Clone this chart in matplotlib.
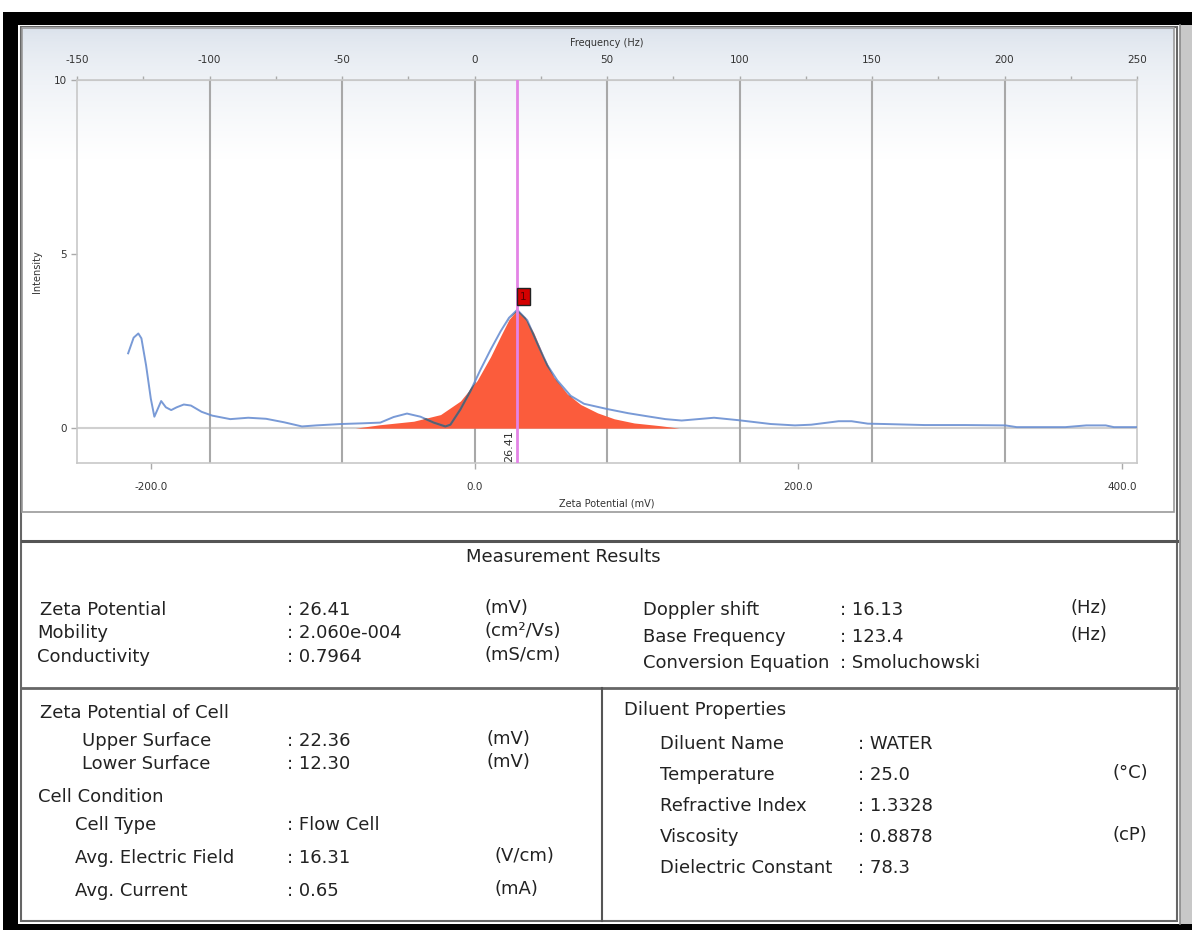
import numpy as np
import matplotlib
matplotlib.use("Agg")
import matplotlib.pyplot as plt
from matplotlib.patches import Rectangle

plt.rcParams["axes.unicode_minus"] = False

# zeta potential (mV) per doppler frequency (Hz)
zeta_peak = 26.41
doppler_shift = 16.13
k = zeta_peak / doppler_shift

freq_ticks = [-150, -100, -50, 0, 50, 100, 150, 200, 250]
zeta_ticks = [-200.0, 0.0, 200.0, 400.0]
intensity_ticks = [0, 5, 10]

# measured spectrum (blue line)
spec_mv = [-214, -210.6, -207.7, -205.8, -202.9, -200, -197.8, -196.2, -193.6, -190.7,
           -187.4, -184, -179.6, -175.2, -168.6, -162, -150.9, -139.8, -128.8, -117.7,
           -106.6, -97.8, -82.3, -69, -58.2, -50, -41.7, -33.4, -25.2, -18,
           -14.9, -8.7, -2.5, 3.7, 9.9, 16.1, 21.3, 26.4, 32.6, 38.8,
           45, 51.2, 59.4, 67.7, 82, 95, 107, 118, 128, 148,
           163, 183, 198, 208, 225, 233, 243, 253, 278, 303,
           328, 335, 365, 378, 390, 395, 411]
spec_int = [2.15, 2.6, 2.72, 2.58, 1.8, 0.85, 0.33, 0.5, 0.78, 0.6,
            0.52, 0.6, 0.68, 0.65, 0.47, 0.36, 0.26, 0.3, 0.27, 0.17,
            0.05, 0.08, 0.12, 0.14, 0.16, 0.32, 0.42, 0.33, 0.16, 0.05,
            0.1, 0.54, 1.07, 1.68, 2.25, 2.78, 3.17, 3.4, 3.1, 2.44,
            1.81, 1.37, 0.93, 0.7, 0.55, 0.43, 0.34, 0.26, 0.22, 0.3,
            0.23, 0.12, 0.08, 0.1, 0.2, 0.2, 0.13, 0.12, 0.09, 0.09,
            0.08, 0.03, 0.03, 0.08, 0.08, 0.03, 0.03]

# fitted peak (red area)
peak_mv = [-73.7, -58.2, -37.6, -21, -8.7, 1.65, 9.9, 16.1, 21.3, 26.4,
           31.6, 36.7, 42.9, 49.1, 57.4, 65.6, 76, 86.3, 98.6, 115, 126.5]
peak_int = [0.0, 0.1, 0.2, 0.39, 0.78, 1.37, 2.05, 2.64, 3.12, 3.4,
            3.17, 2.73, 2.05, 1.46, 0.98, 0.68, 0.44, 0.27, 0.15, 0.07, 0.0]

results_left = [("Zeta Potential", ": 26.41", "(mV)"),
                ("Mobility", ": 2.060e-004", "(cm²/Vs)"),
                ("Conductivity", ": 0.7964", "(mS/cm)")]
results_right = [("Doppler shift", ": 16.13", "(Hz)"),
                 ("Base Frequency", ": 123.4", "(Hz)"),
                 ("Conversion Equation", ": Smoluchowski", "")]
cell_rows = [("Upper Surface", ": 22.36", "(mV)"),
             ("Lower Surface", ": 12.30", "(mV)")]
cond_rows = [("Cell Type", ": Flow Cell", ""),
             ("Avg. Electric Field", ": 16.31", "(V/cm)"),
             ("Avg. Current", ": 0.65", "(mA)")]
diluent_rows = [("Diluent Name", ": WATER", ""),
                ("Temperature", ": 25.0", "(°C)"),
                ("Refractive Index", ": 1.3328", ""),
                ("Viscosity", ": 0.8878", "(cP)"),
                ("Dielectric Constant", ": 78.3", "")]

W, H = 1192, 930
fig = plt.figure(figsize=(W / 100, H / 100), dpi=100)
fig.patch.set_facecolor("white")

# background layer in pixel coordinates
bg = fig.add_axes([0, 0, 1, 1], zorder=0)
bg.set_xlim(0, W)
bg.set_ylim(H, 0)
bg.axis("off")

# window frame
bg.add_patch(Rectangle((3, 12), W - 3, 13, facecolor="black", lw=0))
bg.add_patch(Rectangle((3, 12), 15, H - 12, facecolor="black", lw=0))
bg.add_patch(Rectangle((3, 924), W - 3, 6, facecolor="black", lw=0))
bg.add_patch(Rectangle((1180, 25), 12, 899, facecolor="#c8c8c8", lw=0))
bg.plot([1180, 1180], [25, 924], color="#8a8a8a", lw=1.2)
bg.add_patch(Rectangle((21, 27), 1156, 894, facecolor="none", edgecolor="#666666", lw=1.5))

top = np.array([0.85, 0.88, 0.92])
t = np.linspace(0, 1, 200) ** 0.6
t = np.clip(t * 2.2, 0, 1)
grad = top[None, :] * (1 - t[:, None]) + np.ones(3)[None, :] * t[:, None]
bg.imshow(grad[:, None, :], extent=(22, 1174, 512, 28), aspect="auto", zorder=1)
bg.add_patch(Rectangle((22, 28), 1152, 484, facecolor="none", edgecolor="#9a9a9a", lw=1.2, zorder=2))

bg.plot([22, 1177], [541, 541], color="#555555", lw=2.2)
bg.plot([22, 1177], [688, 688], color="#666666", lw=2)
bg.plot([602, 602], [688, 921], color="#555555", lw=1.5)

tk = dict(fontsize=13, color="#222222", va="center", family="DejaVu Sans")
bg.text(563, 557, "Measurement Results", ha="center", **tk)

for (lab, val, unit), y, x0 in zip(results_left, [610, 633, 657], [40, 37, 37]):
    bg.text(x0, y, lab, **tk)
    bg.text(287, y, val, **tk)
    bg.text(484, y - 2, unit, **tk)
for (lab, val, unit), y in zip(results_right, [610, 637, 663]):
    bg.text(643, y, lab, **tk)
    bg.text(840, y, val, **tk)
    bg.text(1070, y - 2, unit, **tk)

bg.text(40, 713, "Zeta Potential of Cell", **tk)
for (lab, val, unit), y in zip(cell_rows, [741, 764]):
    bg.text(82, y, lab, **tk)
    bg.text(287, y, val, **tk)
    bg.text(487, y - 2, unit, **tk)
bg.text(38, 797, "Cell Condition", **tk)
for (lab, val, unit), y in zip(cond_rows, [825, 858, 891]):
    bg.text(75, y, lab, **tk)
    bg.text(287, y, val, **tk)
    bg.text(494, y - 2, unit, **tk)

bg.text(624, 710, "Diluent Properties", **tk)
for (lab, val, unit), y in zip(diluent_rows, [744, 775, 806, 837, 868]):
    bg.text(660, y, lab, **tk)
    bg.text(858, y, val, **tk)
    bg.text(1112, y - 2, unit, **tk)

# chart
ax = fig.add_axes([77 / W, (H - 463) / H, 1060 / W, 383 / H], zorder=2)
ax.set_facecolor("none")
ax.set_xlim(freq_ticks[0] * k, freq_ticks[-1] * k)
ax.set_ylim(-1, 10)

ax.axhline(0, color="#d0d0d0", lw=1.5, zorder=1)
for hz in freq_ticks[1:-1]:
    ax.axvline(hz * k, color="#a8a8a8", lw=1.5, zorder=1)
red = ax.fill_between(peak_mv, peak_int, color="#fb5c3c", lw=0, zorder=2)
ax.plot(spec_mv, spec_int, color="#6a8fd2", lw=1.4, alpha=0.9, zorder=3)
# line looks greyish where it runs over the red area
dark, = ax.plot(spec_mv, spec_int, color="#59606e", lw=1.5, zorder=3.5)
dark.set_clip_path(red.get_paths()[0], transform=ax.transData)
ax.axvline(zeta_peak, color="#e384e6", lw=2, zorder=4)

ax.annotate("26.41", xy=(zeta_peak, -0.5), xytext=(-5.5, 0), textcoords="offset points",
            rotation=90, ha="center", va="center", fontsize=8, color="#333333")
ax.annotate("1", xy=(zeta_peak, max(spec_int)), xytext=(4.5, 9.5), textcoords="offset points",
            ha="center", va="center", fontsize=7.5, color="#5a0000",
            bbox=dict(boxstyle="square,pad=0.3", fc="#d40000", ec="#222222", lw=1), zorder=5)

for s in ax.spines.values():
    s.set_color("#c8c8c8")
    s.set_linewidth(1.2)

ax.set_xticks(zeta_ticks)
ax.set_xticklabels([f"{v:.1f}" for v in zeta_ticks])
ax.set_yticks(intensity_ticks)
ax.tick_params(axis="both", labelsize=7.5, colors="#aaaaaa", labelcolor="#333333", length=4, width=1)
ax.tick_params(axis="x", pad=10)
ax.set_xlabel("Zeta Potential (mV)", fontsize=7, color="#333333", labelpad=4)
ax.set_ylabel("Intensity", fontsize=7, color="#333333", labelpad=8)

sec = ax.secondary_xaxis("top", functions=(lambda x: x / k, lambda x: x * k))
sec.set_xticks(freq_ticks)
sec.set_xticks(np.arange(-125, 250, 50), minor=True)
sec.tick_params(axis="x", which="both", labelsize=7.5, colors="#aaaaaa", labelcolor="#333333",
                length=3, width=1, pad=8)
sec.spines["top"].set_color("#c8c8c8")
sec.set_xlabel("Frequency (Hz)", fontsize=7, color="#333333", labelpad=6)

fig.savefig("out.png", dpi=100, facecolor="white")
